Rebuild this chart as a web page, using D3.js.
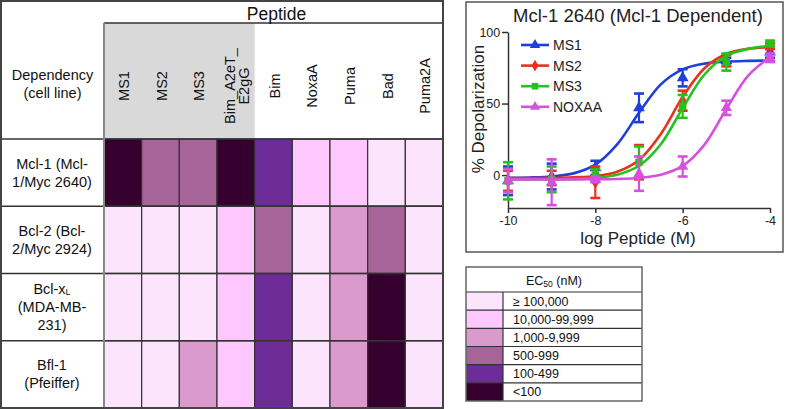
<!DOCTYPE html>
<html>
<head>
<meta charset="utf-8">
<script src="https://cdn.jsdelivr.net/npm/d3@7/dist/d3.min.js"></script>
<style>
  body { margin: 0; background: #fff; }
  svg { display: block; font-family: "Liberation Sans", Arial, sans-serif; }
</style>
</head>
<body>
<svg id="chart" width="785" height="409"></svg>
<script>
// ---------- DATA ----------
const peptides = ["MS1", "MS2", "MS3", "Bim_A2eT_E2gG", "Bim", "NoxaA", "Puma", "Bad", "Puma2A"];
const peptideLabelLines = [["MS1"], ["MS2"], ["MS3"], ["Bim_A2eT_", "E2gG"], ["Bim"], ["NoxaA"], ["Puma"], ["Bad"], ["Puma2A"]];
const stapledPeptides = ["MS1", "MS2", "MS3", "Bim_A2eT_E2gG"];
const cellLines = ["Mcl-1", "Bcl-2", "Bcl-xL", "Bfl-1"];
const ec50Classes = ["≥ 100,000", "10,000-99,999", "1,000-9,999", "500-999", "100-499", "<100"];
const classColors = ["#fce5fc", "#fec8fe", "#da9bcc", "#a66498", "#6e2c98", "#35002d"];
// EC50 class index (into ec50Classes) per cell line, in peptide order
const mcl1Class  = [5, 3, 3, 5, 4, 1, 1, 0, 0];
const bcl2Class  = [0, 0, 0, 1, 3, 0, 2, 3, 0];
const bclxlClass = [0, 0, 0, 1, 4, 0, 2, 5, 0];
const bfl1Class  = [0, 0, 2, 1, 4, 0, 2, 5, 0];

// dose-response panel
const seriesNames = ["MS1", "MS2", "MS3", "NOXAA"];
const seriesColors = ["#1f3fdc", "#e8321e", "#25c21d", "#d84fe0"];
const doseLog = [-10, -9, -8, -7, -6, -5, -4];
const ms1Mean = [-4, -1, 5, 47, 68, 80, 86];
const ms1Err  = [10, 9, 5, 10, 6, 2, 4];
const ms2Mean = [-4, -2, -5, 9, 52, 80, 90];
const ms2Err  = [7, 5, 11, 12, 7, 4, 2];
const ms3Mean = [-4, -3, 0, 9, 48, 79, 92];
const ms3Err  = [13, 9, 4, 11, 8, 6, 2];
const noxaMean = [-4, -5, -3, 1, 6, 47, 82];
const noxaErr  = [8, 16, 2, 12, 7, 5, 3];
// fitted curves
const curveDose = [-10, -9.5, -9, -8.5, -8, -7.5, -7, -6.5, -6, -5.5, -5, -4.5, -4];
const ms1Fit  = [-1.9, -1.7, -1.0, 1.2, 7.3, 21.5, 43.5, 63.4, 73.9, 77.9, 79.3, 79.8, 80];
const ms2Fit  = [-2, -2, -1.9, -1.5, -0.6, 2.4, 10.6, 28.8, 54.6, 74.7, 84.6, 88.2, 89.4];
const ms3Fit  = [-3, -3, -2.9, -2.7, -2, 0.2, 6.5, 21.6, 46.8, 70.3, 83.3, 88.3, 90.2];
const noxaFit = [-3, -3, -3, -3, -2.9, -2.7, -2, 0.2, 6.4, 21.3, 46.2, 69.5, 82.4];
const xTicks = [-10, -8, -6, -4];
const yTicks = [0, 50, 100];

// ---------- DRAW ----------
const svg = d3.select("#chart");
svg.append("rect").attr("width", 785).attr("height", 409).attr("fill", "#fff");

// ===== Heatmap table =====
const T = { left: 1, top: 1, right: 443, bottom: 408, labelRight: 104, peptideLine: 23, headBottom: 139 };
const xCol = d3.scaleBand().domain(peptides).range([T.labelRight, T.right]);
const yRow = d3.scaleBand().domain(cellLines).range([T.headBottom, T.bottom]);
const tbl = svg.append("g");

tbl.append("rect")
  .attr("x", xCol(stapledPeptides[0]))
  .attr("y", T.peptideLine)
  .attr("width", xCol.bandwidth() * stapledPeptides.length)
  .attr("height", T.headBottom - T.peptideLine)
  .attr("fill", "#d9d9d9");

const rowsData = [mcl1Class, bcl2Class, bclxlClass, bfl1Class];
rowsData.forEach((row, ri) => {
  tbl.selectAll(null).data(row).enter().append("rect")
    .attr("x", (d, i) => xCol(peptides[i]))
    .attr("y", yRow(cellLines[ri]))
    .attr("width", xCol.bandwidth())
    .attr("height", yRow.bandwidth())
    .attr("fill", d => classColors[d])
    .attr("stroke", "#333")
    .attr("stroke-width", 1.2);
});

cellLines.forEach(c => {
  tbl.append("line").attr("x1", T.left).attr("x2", T.right)
    .attr("y1", yRow(c)).attr("y2", yRow(c))
    .attr("stroke", "#333").attr("stroke-width", 1.3);
});
tbl.append("line").attr("x1", T.labelRight).attr("x2", T.right)
  .attr("y1", T.peptideLine).attr("y2", T.peptideLine)
  .attr("stroke", "#333").attr("stroke-width", 1.3);
tbl.append("line").attr("x1", T.labelRight).attr("x2", T.labelRight)
  .attr("y1", T.peptideLine).attr("y2", T.bottom)
  .attr("stroke", "#888").attr("stroke-width", 2);
tbl.append("rect").attr("x", T.left).attr("y", T.top)
  .attr("width", T.right - T.left).attr("height", T.bottom - T.top)
  .attr("fill", "none").attr("stroke", "#444").attr("stroke-width", 2);

tbl.append("text").attr("x", (T.labelRight + T.right) / 2 + 3).attr("y", 19.5)
  .attr("text-anchor", "middle").attr("font-size", 17.5).attr("fill", "#111").text("Peptide");
const depText = tbl.append("text").attr("text-anchor", "middle").attr("font-size", 14.5).attr("fill", "#111");
depText.append("tspan").attr("x", 52.5).attr("y", 80).text("Dependency");
depText.append("tspan").attr("x", 52.5).attr("y", 98).text("(cell line)");

peptides.forEach((p, i) => {
  const lines = peptideLabelLines[i];
  const cx = xCol(p) + xCol.bandwidth() / 2;
  lines.forEach((ln, li) => {
    const off = (li - (lines.length - 1) / 2) * 14;
    tbl.append("text")
      .attr("transform", `translate(${cx + off + 1},86) rotate(-90)`)
      .attr("text-anchor", "middle").attr("dy", "0.36em")
      .attr("font-size", 14.5).attr("fill", "#111").text(ln);
  });
});

const rowLabelLines = [
  [["Mcl-1 (Mcl-"], ["1/Myc 2640)"]],
  [["Bcl-2 (Bcl-"], ["2/Myc 2924)"]],
  [["Bcl-x", "L"], ["(MDA-MB-"], ["231)"]],
  [["Bfl-1"], ["(Pfeiffer)"]]
];
cellLines.forEach((c, ri) => {
  const lines = rowLabelLines[ri];
  const cy = yRow(c) + yRow.bandwidth() / 2;
  const lh = 18;
  const t = tbl.append("text").attr("text-anchor", "middle").attr("font-size", 14.5).attr("fill", "#111");
  lines.forEach((ln, li) => {
    const yy = cy + (li - (lines.length - 1) / 2) * lh + 5;
    t.append("tspan").attr("x", 52).attr("y", yy).text(ln[0]);
    if (ln[1]) {
      t.append("tspan").attr("font-size", 9).attr("dy", 1).text(ln[1]);
    }
  });
});

// ===== Dose response panel =====
const P = { left: 466, top: 2, right: 783, bottom: 252 };
svg.append("rect").attr("x", P.left).attr("y", P.top)
  .attr("width", P.right - P.left).attr("height", P.bottom - P.top)
  .attr("fill", "#fff").attr("stroke", "#555").attr("stroke-width", 1.5);

const x = d3.scaleLinear().domain([-10, -4]).range([508, 770]);
const y = d3.scaleLinear().domain([-23, 100]).range([208, 32]);

svg.append("text").attr("x", 638).attr("y", 22).attr("text-anchor", "middle")
  .attr("font-size", 18.5).attr("fill", "#222").text("Mcl-1 2640 (Mcl-1 Dependent)");

const xAxis = svg.append("g").attr("transform", `translate(0,${y(-23)})`)
  .call(d3.axisBottom(x).tickValues(xTicks).tickFormat(d => String(d)).tickSize(5).tickSizeOuter(0));
const yAxis = svg.append("g").attr("transform", `translate(${x(-10)},0)`)
  .call(d3.axisLeft(y).tickValues(yTicks).tickFormat(d => String(d)).tickSize(6).tickSizeOuter(0));
[xAxis, yAxis].forEach(a => {
  a.selectAll("path, line").attr("stroke", "#333").attr("stroke-width", 1.5);
  a.selectAll("text").attr("font-size", 12.5).attr("fill", "#222")
    .attr("font-family", "'Liberation Sans', Arial, sans-serif");
});
xAxis.selectAll("text").attr("y", 17).attr("dy", 0);
yAxis.selectAll("text").attr("dx", "0.1em");

svg.append("text").attr("x", 638).attr("y", 244).attr("text-anchor", "middle")
  .attr("font-size", 17).attr("fill", "#222").text("log Peptide (M)");
svg.append("text").attr("transform", "translate(484,109) rotate(-90)").attr("text-anchor", "middle")
  .attr("font-size", 17).attr("fill", "#222").text("% Depolarization");

const seriesMeans = [ms1Mean, ms2Mean, ms3Mean, noxaMean];
const seriesErrs = [ms1Err, ms2Err, ms3Err, noxaErr];
const seriesFits = [ms1Fit, ms2Fit, ms3Fit, noxaFit];
const symbols = [d3.symbolTriangle, d3.symbolDiamond, d3.symbolSquare, d3.symbolTriangle];
const symSizes = [60, 50, 55, 55];

const line = d3.line().x(d => x(d[0])).y(d => y(d[1])).curve(d3.curveCatmullRom);

seriesNames.forEach((name, si) => {
  const col = seriesColors[si];
  const g = svg.append("g");
  g.append("path")
    .datum(curveDose.map((d, i) => [d, seriesFits[si][i]]))
    .attr("d", line).attr("fill", "none").attr("stroke", col).attr("stroke-width", 2.6);
  const pts = doseLog.map((d, i) => ({ d, m: seriesMeans[si][i], e: seriesErrs[si][i] }));
  const eb = g.selectAll(null).data(pts).enter().append("g");
  eb.append("line").attr("x1", p => x(p.d)).attr("x2", p => x(p.d))
    .attr("y1", p => y(p.m - p.e)).attr("y2", p => y(p.m + p.e))
    .attr("stroke", col).attr("stroke-width", 2.2);
  [-1, 1].forEach(s => {
    eb.append("line").attr("x1", p => x(p.d) - 5).attr("x2", p => x(p.d) + 5)
      .attr("y1", p => y(p.m + s * p.e)).attr("y2", p => y(p.m + s * p.e))
      .attr("stroke", col).attr("stroke-width", 2.6);
  });
  eb.append("path").attr("d", d3.symbol().type(symbols[si]).size(symSizes[si]))
    .attr("transform", p => `translate(${x(p.d)},${y(p.m)})`)
    .attr("fill", col);

  const ly = 45 + si * 20.6;
  svg.append("line").attr("x1", 521).attr("x2", 549).attr("y1", ly).attr("y2", ly)
    .attr("stroke", col).attr("stroke-width", 2.6);
  svg.append("path").attr("d", d3.symbol().type(symbols[si]).size(symSizes[si] * 0.8))
    .attr("transform", `translate(535,${ly})`).attr("fill", col);
  svg.append("text").attr("x", 553).attr("y", ly + 5).attr("font-size", 14)
    .attr("fill", "#222").text(name);
});

// ===== EC50 legend =====
const L = { left: 466, top: 267, right: 642, headBottom: 292, bottom: 401, swatchRight: 503 };
const yL = d3.scaleBand().domain(ec50Classes).range([L.headBottom, L.bottom]);
const lg = svg.append("g");
lg.selectAll(null).data(ec50Classes).enter().append("rect")
  .attr("x", L.left).attr("y", d => yL(d)).attr("width", L.swatchRight - L.left)
  .attr("height", yL.bandwidth()).attr("fill", (d, i) => classColors[i]);
ec50Classes.forEach(c => {
  lg.append("line").attr("x1", L.left).attr("x2", L.right).attr("y1", yL(c)).attr("y2", yL(c))
    .attr("stroke", "#333").attr("stroke-width", 1.2);
});
lg.append("line").attr("x1", L.swatchRight).attr("x2", L.swatchRight)
  .attr("y1", L.headBottom).attr("y2", L.bottom).attr("stroke", "#333").attr("stroke-width", 1.2);
lg.append("rect").attr("x", L.left).attr("y", L.top).attr("width", L.right - L.left)
  .attr("height", L.bottom - L.top).attr("fill", "none").attr("stroke", "#666").attr("stroke-width", 1.5);
lg.selectAll(null).data(ec50Classes).enter().append("text")
  .attr("x", 513).attr("y", d => yL(d) + yL.bandwidth() / 2 + 4.5)
  .attr("font-size", 12.5).attr("fill", "#111").text(d => d);
const hdr = lg.append("text").attr("x", 554).attr("y", 285).attr("text-anchor", "middle")
  .attr("font-size", 12.5).attr("fill", "#111");
hdr.append("tspan").text("EC");
hdr.append("tspan").attr("font-size", 8.5).attr("dy", 2).text("50");
hdr.append("tspan").attr("dy", -2).text(" (nM)");
</script>
</body>
</html>
